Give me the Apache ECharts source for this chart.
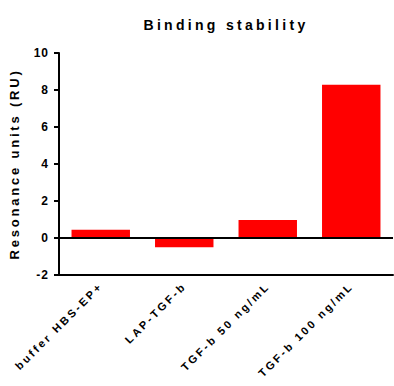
<!DOCTYPE html>
<html>
<head>
<meta charset="utf-8">
<script src="https://cdn.jsdelivr.net/npm/echarts@6/dist/echarts.min.js"></script>
<style>
html,body{margin:0;padding:0;background:#fff;}
#c{width:394px;height:386px;}
#c text{letter-spacing:1.2px;}
#c text[style*="14px"]{letter-spacing:3.3px;}
#c text[style*="13px"]{letter-spacing:2.8px;}
#c text[style*="11px"]{letter-spacing:2.6px;}
#c text[style*="12px"]{letter-spacing:1px;}
</style>
</head>
<body>
<div id="c"></div>
<script>
var titleText = 'Binding stability';
var yAxisName = 'Resonance units (RU)';
var categories = ['buffer HBS-EP+', 'LAP-TGF-b', 'TGF-b 50 ng/mL', 'TGF-b 100 ng/mL'];
var values = [0.45, -0.5, 0.97, 8.28];
var yMin = -2, yMax = 10, yStep = 2;

var FF = "'Liberation Sans', Arial, sans-serif";
var chart = echarts.init(document.getElementById('c'), null, {renderer: 'svg'});
chart.setOption({
  animation: false,
  title: {
    text: titleText,
    left: 221, top: 13, textAlign: 'center',
    textStyle: {fontFamily: FF, fontSize: 14, fontWeight: 'bold', color: '#000'}
  },
  grid: {left: 57, right: 1, top: 53, bottom: 111, containLabel: false},
  xAxis: {
    type: 'category',
    data: categories,
    axisLine: {onZero: false, lineStyle: {color: '#000', width: 2}},
    axisTick: {alignWithLabel: true, length: 6, lineStyle: {color: '#000', width: 2}},
    axisLabel: {rotate: 45, margin: 9, interval: 0, color: '#000', fontFamily: FF, fontSize: 11, fontWeight: 'bold'}
  },
  yAxis: {
    type: 'value', min: yMin, max: yMax, interval: yStep,
    name: yAxisName, nameLocation: 'middle', nameGap: 38,
    nameTextStyle: {fontFamily: FF, fontSize: 13, fontWeight: 'bold', color: '#000'},
    axisLine: {show: true, lineStyle: {color: '#000', width: 2}},
    axisTick: {show: true, length: 5, lineStyle: {color: '#000', width: 2}},
    axisLabel: {margin: 10, color: '#000', fontFamily: FF, fontSize: 12, fontWeight: 'bold'},
    splitLine: {show: false}
  },
  series: [{
    type: 'bar',
    data: values,
    barCategoryGap: '30%',
    itemStyle: {color: '#ff0000'},
    markLine: {
      silent: true, symbol: 'none', label: {show: false},
      lineStyle: {color: '#000', width: 2, type: 'solid'},
      data: [{yAxis: 0}]
    }
  }]
});
</script>
</body>
</html>
